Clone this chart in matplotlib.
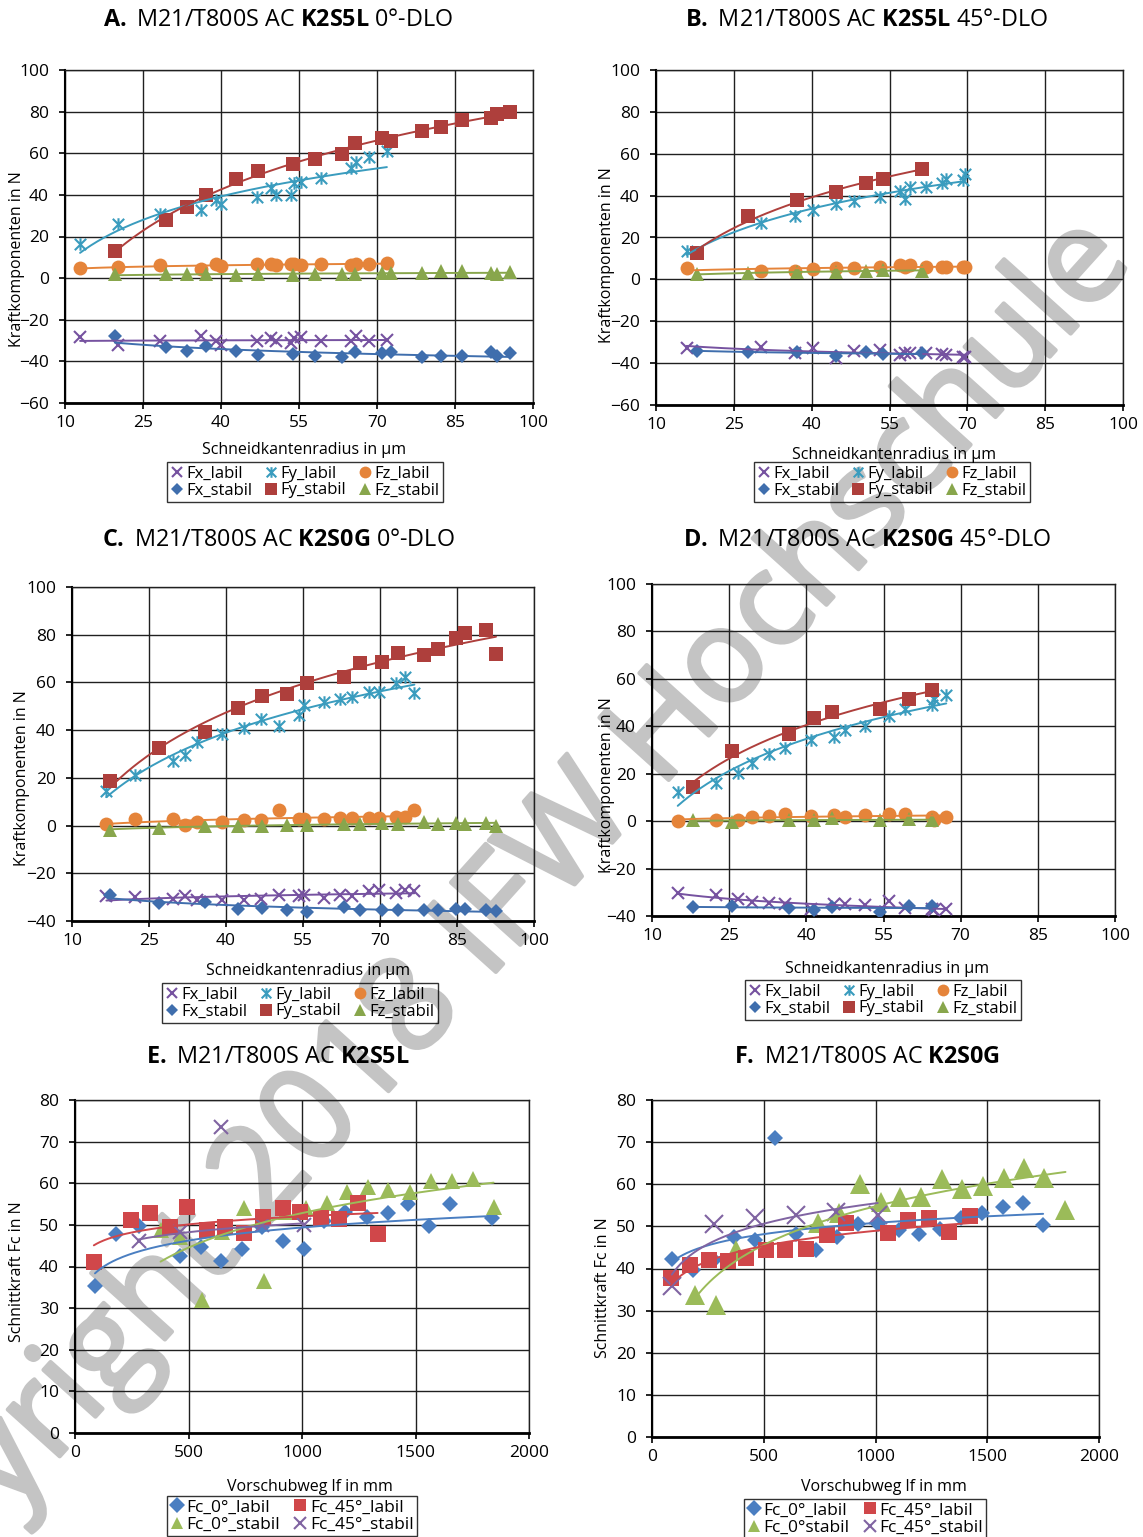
import numpy as np
import matplotlib
matplotlib.use("Agg")
import matplotlib.pyplot as plt
from matplotlib.path import Path
from matplotlib.lines import Line2D
from matplotlib import patheffects

plt.rcParams['font.family'] = ['Open Sans', 'DejaVu Sans']
plt.rcParams['mathtext.fontset'] = 'custom'
plt.rcParams['mathtext.rm'] = 'Open Sans'
plt.rcParams['mathtext.bf'] = 'Open Sans:bold'

# ---------------- data: cutting edge radius series (panels A-D) ----------------
# Panel A: K2S5L 0°-DLO
a_r_labil = [12.9, 20.1, 28.2, 36.1, 39.0, 40.0, 46.9, 49.6, 50.6, 53.4, 54.0, 55.4, 59.3, 65.0, 66.0, 68.4, 71.9]
a_fx_labil = [-28.5, -32.0, -30.4, -28.0, -30.4, -32.0, -30.4, -28.8, -30.1, -31.2, -28.8, -28.5, -30.4, -30.1, -28.0, -30.4, -29.6]
a_fy_labil = [16.3, 26.1, 30.7, 32.5, 37.6, 35.7, 39.2, 43.2, 40.0, 39.7, 45.6, 46.4, 48.0, 52.8, 56.0, 58.4, 61.1]
a_fz_labil = [4.8, 5.3, 6.1, 4.5, 6.7, 5.6, 7.0, 7.0, 6.1, 6.7, 7.0, 6.1, 7.0, 6.1, 7.0, 6.7, 7.5]
a_r_stabil = [19.6, 29.4, 33.4, 37.1, 42.9, 47.1, 53.8, 58.1, 63.3, 65.7, 71.0, 72.7, 78.7, 82.3, 86.4, 91.9, 93.1, 95.5]
a_fx_stabil = [-28.0, -33.1, -34.9, -32.8, -34.9, -36.8, -36.5, -37.3, -38.1, -35.5, -36.0, -35.5, -38.1, -37.3, -37.6, -35.5, -37.6, -36.0]
a_fy_stabil = [12.8, 28.0, 34.4, 40.0, 47.7, 51.5, 54.7, 57.3, 59.5, 65.1, 67.2, 65.9, 70.9, 72.8, 76.0, 76.8, 78.7, 79.7]
a_fz_stabil = [1.9, 1.9, 1.9, 1.9, 1.3, 1.9, 1.6, 1.9, 1.9, 1.9, 2.4, 2.4, 2.4, 3.2, 3.5, 2.6, 1.9, 3.0]

# Panel B: K2S5L 45°-DLO
b_r_labil = [15.9, 30.3, 36.7, 40.3, 44.7, 48.1, 53.1, 57.1, 58.0, 59.0, 62.1, 65.2, 65.9, 69.2, 69.5]
b_fx_labil = [-32.6, -32.1, -35.3, -32.6, -37.4, -34.0, -33.7, -36.1, -35.3, -35.0, -35.3, -35.6, -36.1, -36.9, -36.9]
b_fy_labil = [13.6, 26.8, 30.4, 33.1, 36.0, 37.6, 39.2, 42.2, 38.2, 44.0, 44.0, 45.9, 47.8, 47.5, 50.2]
b_fz_labil = [5.3, 4.2, 4.2, 4.8, 5.3, 5.3, 5.8, 6.9, 6.1, 6.9, 6.1, 6.1, 6.1, 5.8, 5.8]
b_r_stabil = [17.9, 27.7, 37.1, 44.7, 50.4, 53.7, 61.2]
b_fx_stabil = [-34.2, -34.5, -34.5, -36.6, -34.8, -35.8, -35.3]
b_fy_stabil = [12.4, 30.3, 37.9, 41.6, 45.9, 47.9, 52.7]
b_fz_stabil = [2.4, 2.9, 3.7, 3.7, 4.0, 4.5, 4.0]

# Panel C: K2S0G 0°-DLO
c_r_labil = [16.7, 22.2, 29.7, 32.0, 34.3, 39.2, 43.5, 46.8, 50.3, 54.3, 55.1, 59.0, 62.3, 64.5, 67.8, 69.9, 73.2, 74.9, 76.7]
c_fx_labil = [-29.5, -30.0, -30.9, -29.5, -31.2, -31.2, -31.2, -30.9, -29.1, -29.5, -28.9, -30.2, -28.9, -29.5, -27.5, -26.8, -28.2, -26.8, -27.5]
c_fy_labil = [14.7, 21.3, 26.9, 29.7, 35.2, 38.4, 40.8, 44.7, 41.9, 46.4, 50.5, 51.7, 53.1, 54.0, 56.1, 56.1, 59.9, 62.4, 55.4]
c_fz_labil = [0.7, 2.8, 2.8, 0.1, 1.5, 1.5, 2.5, 2.5, 6.7, 2.8, 2.8, 2.8, 3.2, 3.2, 3.2, 3.2, 3.6, 3.6, 6.7]
c_r_stabil = [17.4, 26.9, 36.0, 42.3, 47.0, 51.9, 55.8, 63.0, 66.2, 70.3, 73.5, 78.5, 81.3, 84.8, 86.6, 90.6, 92.6]
c_fx_stabil = [-28.9, -32.3, -32.1, -35.1, -34.4, -35.5, -36.2, -34.1, -35.5, -35.5, -35.5, -35.5, -35.5, -35.1, -35.1, -35.5, -35.8]
c_fy_stabil = [18.5, 32.4, 39.4, 49.2, 54.3, 55.1, 59.9, 62.1, 68.0, 68.7, 72.4, 71.4, 74.2, 78.8, 80.9, 81.9, 72.1]
c_fz_stabil = [-2.0, -1.0, 0.0, 0.0, 0.0, 0.4, 0.4, 0.7, 0.7, 1.1, 0.8, 1.5, 0.8, 1.1, 0.7, 1.1, 0.0]

# Panel D: K2S0G 45°-DLO
d_r_labil = [15.0, 22.4, 26.7, 29.4, 32.8, 35.8, 41.0, 45.4, 47.5, 51.5, 56.0, 59.2, 64.4, 64.8, 67.2]
d_fx_labil = [-30.2, -31.3, -33.0, -34.1, -34.4, -35.1, -37.2, -35.1, -35.1, -35.5, -33.7, -36.5, -37.0, -37.6, -37.2]
d_fy_labil = [12.5, 16.0, 20.5, 24.4, 28.2, 30.7, 34.2, 35.6, 38.4, 40.2, 44.3, 47.5, 48.9, 51.7, 53.1]
d_fz_labil = [0.2, 0.6, 0.6, 1.7, 2.3, 3.0, 2.0, 2.7, 1.7, 2.7, 3.1, 3.0, 1.8, 0.6, 1.6]
d_r_stabil = [18.0, 25.6, 36.7, 41.4, 45.0, 54.3, 60.0, 64.4]
d_fx_stabil = [-36.1, -35.8, -36.5, -37.6, -36.1, -38.2, -35.8, -35.8]
d_fy_stabil = [14.3, 29.7, 36.7, 43.3, 46.1, 47.5, 51.7, 55.2]
d_fz_stabil = [0.6, -0.5, 0.3, 0.3, 1.3, 0.3, 0.9, 0.3]

# ---------------- data: cutting force over feed travel (panels E-F) ----------------
e_lf_0labil = [88, 182, 280, 464, 555, 641, 736, 825, 917, 1008, 1097, 1189, 1286, 1377, 1467, 1561, 1653, 1836]
e_fc_0labil = [35.4, 47.8, 49.8, 42.6, 44.8, 41.4, 44.2, 49.4, 46.2, 44.2, 51.0, 53.2, 51.8, 52.8, 55.0, 49.8, 55.0, 51.6]
e_lf_45labil = [83, 248, 332, 417, 495, 582, 662, 744, 830, 917, 992, 1082, 1163, 1247, 1333]
e_fc_45labil = [41.0, 51.2, 52.8, 49.4, 54.2, 48.8, 49.6, 48.0, 52.0, 54.0, 53.2, 51.6, 51.4, 55.2, 47.8]
e_lf_0stabil = [377, 461, 558, 649, 744, 833, 925, 1016, 1110, 1200, 1291, 1380, 1475, 1569, 1660, 1753, 1844]
e_fc_0stabil = [48.8, 47.2, 32.0, 48.4, 54.0, 36.4, 53.2, 54.0, 55.2, 57.8, 59.2, 58.4, 58.0, 60.6, 60.6, 61.0, 54.2]
e_lf_45stabil = [280, 461, 641, 825, 1008]
e_fc_45stabil = [46.2, 48.4, 73.6, 50.0, 50.0]
e_45stabil_fit_skip = [2]

f_lf_0labil = [89, 184, 277, 369, 459, 551, 644, 736, 829, 921, 1010, 1106, 1195, 1288, 1383, 1477, 1570, 1662, 1750]
f_fc_0labil = [42.3, 39.7, 42.1, 47.5, 46.8, 70.9, 48.2, 44.3, 47.5, 50.5, 50.5, 49.2, 48.2, 49.3, 52.1, 53.1, 54.5, 55.5, 50.4]
f_lf_45labil = [84, 169, 256, 338, 422, 510, 594, 688, 781, 870, 1055, 1147, 1238, 1328, 1423]
f_fc_45labil = [37.7, 40.9, 41.9, 41.7, 42.5, 44.5, 44.5, 44.6, 48.0, 50.9, 48.4, 51.6, 52.0, 48.6, 52.4]
f_lf_0stabil = [192, 285, 378, 744, 836, 929, 1023, 1111, 1203, 1296, 1388, 1480, 1573, 1665, 1755, 1850]
f_fc_0stabil = [33.8, 31.4, 44.4, 50.9, 53.1, 60.0, 55.7, 56.9, 56.9, 61.2, 58.8, 59.6, 61.4, 63.8, 61.4, 53.9]
f_lf_45stabil = [89, 277, 462, 644, 824, 1010]
f_fc_45stabil = [35.8, 50.5, 52.0, 52.7, 53.5, 52.7]

titles = [
    r"$\mathbf{A.}$ M21/T800S AC $\mathbf{K2S5L}$ 0°-DLO",
    r"$\mathbf{B.}$ M21/T800S AC $\mathbf{K2S5L}$ 45°-DLO",
    r"$\mathbf{C.}$ M21/T800S AC $\mathbf{K2S0G}$ 0°-DLO",
    r"$\mathbf{D.}$ M21/T800S AC $\mathbf{K2S0G}$ 45°-DLO",
    r"$\mathbf{E.}$ M21/T800S AC $\mathbf{K2S5L}$",
    r"$\mathbf{F.}$ M21/T800S AC $\mathbf{K2S0G}$",
]
radius_ticks = [10, 25, 40, 55, 70, 85, 100]
feed_ticks = [0, 500, 1000, 1500, 2000]
xlabel_radius = "Schneidkantenradius in µm"
ylabel_comp = "Kraftkomponenten in N"
xlabel_feed = "Vorschubweg lf in mm"
ylabel_fc = "Schnittkraft Fc in N"
comp_labels = ["Fx_labil", "Fx_stabil", "Fy_labil", "Fy_stabil", "Fz_labil", "Fz_stabil"]
fc_labels_e = ["Fc_0°_labil", "Fc_0°_stabil", "Fc_45°_labil", "Fc_45°_stabil"]
fc_labels_f = ["Fc_0°_labil", "Fc_0°stabil", "Fc_45°_labil", "Fc_45°_stabil"]
watermark = "Copyright 2018 IFW Hochschule"

# ---------------- styling ----------------
W, H = 1143, 1537
fig = plt.figure(figsize=(W / 100, H / 100), dpi=100)

ASTERISK = Path([(-1, -1), (1, 1), (-1, 1), (1, -1), (0, -1.1), (0, 1.1)],
                [Path.MOVETO, Path.LINETO, Path.MOVETO, Path.LINETO, Path.MOVETO, Path.LINETO])

C_RED, C_TEAL, C_ORANGE = '#AE3F3C', '#3A9CBE', '#E5843A'
C_GREEN, C_BLUE, C_PURPLE = '#88A64C', '#3F6EAD', '#7652A0'
E_BLUE, E_RED, E_GREEN, E_PURPLE = '#4A7EC1', '#D0474A', '#9BBB59', '#8064A2'

comp_styles = {
    'fx_labil': dict(marker='x', color=C_PURPLE, ms=8.5, mew=1.5, mfc='none'),
    'fx_stabil': dict(marker='D', color=C_BLUE, ms=7.5, mew=0),
    'fy_labil': dict(marker=ASTERISK, color=C_TEAL, ms=9, mew=1.5, mfc='none'),
    'fy_stabil': dict(marker='s', color=C_RED, ms=9.5, mew=0),
    'fz_labil': dict(marker='o', color=C_ORANGE, ms=10, mew=0),
    'fz_stabil': dict(marker='^', color=C_GREEN, ms=10, mew=0),
}


def axes_px(x0, y0, x1, y1):
    ax = fig.add_axes([x0 / W, 1 - y1 / H, (x1 - x0) / W, (y1 - y0) / H])
    ax.patch.set_alpha(0)
    return ax


def ftext(x, y, s, **kw):
    return fig.text(x / W, 1 - y / H, s, **kw)


def style_axes(ax, xlim, xticks, ylim, yticks):
    ax.set_xlim(*xlim)
    ax.set_ylim(*ylim)
    ax.set_xticks(xticks)
    ax.set_yticks(yticks)
    ax.grid(True, color='#202020', lw=1.0)
    ax.set_axisbelow(True)
    for s in ['top', 'right']:
        ax.spines[s].set_color('#202020')
        ax.spines[s].set_linewidth(1.0)
    ax.spines['left'].set_linewidth(1.5)
    ax.spines['bottom'].set_linewidth(2.0)
    ax.tick_params(axis='both', direction='out', length=4.5, width=1.2, labelsize=12.5, colors='black')
    ax.tick_params(axis='y', pad=7)
    ax.tick_params(axis='x', pad=4)


def log_trend(ax, x, y, color, skip=(), lw=1.4):
    x = np.asarray(x, float)
    y = np.asarray(y, float)
    keep = np.ones(len(x), bool)
    keep[list(skip)] = False
    a, b = np.polyfit(np.log(x[keep]), y[keep], 1)
    xs = np.linspace(x[keep].min(), x[keep].max(), 200)
    ax.plot(xs, a * np.log(xs) + b, color=color, lw=lw, zorder=4, solid_capstyle='round')


def add_legend(handles, labels, c, ncol, fs=12):
    leg = fig.legend(handles, labels, loc='center', bbox_to_anchor=(c[0] / W, 1 - c[1] / H),
                     ncol=ncol, frameon=True, fancybox=False, edgecolor='black', fontsize=fs,
                     handlelength=0.8, handletextpad=0.15, columnspacing=0.75, labelspacing=0.05,
                     borderpad=0.2, borderaxespad=0)
    leg.get_frame().set_linewidth(1.0)
    leg.get_frame().set_facecolor('none')
    return leg


def comp_panel(box, title, tcx, tcy, r_lab, fx_l, fy_l, fz_l, r_st, fx_s, fy_s, fz_s,
               ylim, yticks, xl_c, yl_c, leg_c):
    ax = axes_px(*box)
    style_axes(ax, (10, 100), radius_ticks, ylim, yticks)
    series = [('fx_labil', r_lab, fx_l), ('fx_stabil', r_st, fx_s),
              ('fy_labil', r_lab, fy_l), ('fy_stabil', r_st, fy_s),
              ('fz_labil', r_lab, fz_l), ('fz_stabil', r_st, fz_s)]
    handles = []
    for key, x, y in series:
        st = comp_styles[key]
        ax.plot(x, y, ls='none', marker=st['marker'], ms=st['ms'], color=st['color'],
                mec=st['color'], mfc=st.get('mfc', st['color']), mew=st['mew'], zorder=3)
        log_trend(ax, x, y, st['color'])
        handles.append(Line2D([], [], ls='none', marker=st['marker'], ms=st['ms'] * 0.85,
                              color=st['color'], mec=st['color'],
                              mfc=st.get('mfc', st['color']), mew=st['mew']))
    ftext(tcx, tcy, title, ha='center', va='center', fontsize=16.8)
    ftext(xl_c[0], xl_c[1], xlabel_radius, ha='center', va='center', fontsize=11.5)
    ftext(yl_c[0], yl_c[1], ylabel_comp, ha='center', va='center', fontsize=11.5, rotation=90)
    add_legend(handles, comp_labels, leg_c, 3)
    return ax


def fc_panel(box, title, tcx, tcy, groups, labels, xl_c, yl_c, leg_c):
    ax = axes_px(*box)
    style_axes(ax, (0, 2000), feed_ticks, (0, 80), list(range(0, 81, 10)))
    handles = []
    for x, y, st, skip in groups:
        ax.plot(x, y, ls='none', marker=st['marker'], ms=st['ms'], color=st['color'],
                mec=st['color'], mfc=st.get('mfc', st['color']), mew=st['mew'], zorder=3)
        log_trend(ax, x, y, st['color'], skip=skip)
        handles.append(Line2D([], [], ls='none', marker=st['marker'], ms=8.5,
                              color=st['color'], mec=st['color'],
                              mfc=st.get('mfc', st['color']), mew=1.5 if st['marker'] == 'x' else 0))
    ftext(tcx, tcy, title, ha='center', va='center', fontsize=16.8)
    ftext(xl_c[0], xl_c[1], xlabel_feed, ha='center', va='center', fontsize=11.5)
    ftext(yl_c[0], yl_c[1], ylabel_fc, ha='center', va='center', fontsize=11.5, rotation=90)
    add_legend(handles, labels, leg_c, 2, fs=12.5)
    return ax


# diagonal copyright watermark, lying underneath the charts
ftext(465, 955, watermark, rotation=48, rotation_mode='anchor',
      ha='center', va='center', fontsize=94, color='#c4c4c4', zorder=-5,
      path_effects=[patheffects.withStroke(linewidth=3, foreground='#c4c4c4')])

comp_panel((65, 70, 533, 403), titles[0], 278, 20,
           a_r_labil, a_fx_labil, a_fy_labil, a_fz_labil,
           a_r_stabil, a_fx_stabil, a_fy_stabil, a_fz_stabil,
           (-60, 100), list(range(-60, 101, 20)), (304, 450), (17, 259), (305, 482))
comp_panel((656, 70, 1123, 405), titles[1], 867, 20,
           b_r_labil, b_fx_labil, b_fy_labil, b_fz_labil,
           b_r_stabil, b_fx_stabil, b_fy_stabil, b_fz_stabil,
           (-60, 100), list(range(-60, 101, 20)), (894, 455), (607, 255), (892, 482))
comp_panel((72, 587, 534, 921), titles[2], 278, 540,
           c_r_labil, c_fx_labil, c_fy_labil, c_fz_labil,
           c_r_stabil, c_fx_stabil, c_fy_stabil, c_fz_stabil,
           (-40, 100), list(range(-40, 101, 20)), (308, 971), (22, 778), (300, 1003))
comp_panel((652, 584, 1115, 916), titles[3], 867, 540,
           d_r_labil, d_fx_labil, d_fy_labil, d_fz_labil,
           d_r_stabil, d_fx_stabil, d_fy_stabil, d_fz_stabil,
           (-40, 100), list(range(-40, 101, 20)), (887, 969), (607, 785), (883, 1000))

st_e = {
    '0labil': dict(marker='D', color=E_BLUE, ms=8, mew=0),
    '45labil': dict(marker='s', color=E_RED, ms=11, mew=0),
    '0stabil': dict(marker='^', color=E_GREEN, ms=11, mew=0),
    '45stabil': dict(marker='x', color=E_PURPLE, ms=9.5, mew=1.5, mfc='none'),
}
st_f = {
    '0labil': dict(marker='D', color=E_BLUE, ms=8, mew=0),
    '45labil': dict(marker='s', color=E_RED, ms=11, mew=0),
    '0stabil': dict(marker='^', color=E_GREEN, ms=14, mew=0),
    '45stabil': dict(marker='x', color=E_PURPLE, ms=13, mew=1.5, mfc='none'),
}

fc_panel((75, 1100, 529, 1433), titles[4], 278, 1057,
         [(e_lf_0labil, e_fc_0labil, st_e['0labil'], ()),
          (e_lf_0stabil, e_fc_0stabil, st_e['0stabil'], ()),
          (e_lf_45labil, e_fc_45labil, st_e['45labil'], ()),
          (e_lf_45stabil, e_fc_45stabil, st_e['45stabil'], e_45stabil_fit_skip)],
         fc_labels_e, (310, 1487), (17, 1272), (292, 1516))
fc_panel((652, 1100, 1099, 1437), titles[5], 867, 1057,
         [(f_lf_0labil, f_fc_0labil, st_f['0labil'], ()),
          (f_lf_0stabil, f_fc_0stabil, st_f['0stabil'], ()),
          (f_lf_45labil, f_fc_45labil, st_f['45labil'], ()),
          (f_lf_45stabil, f_fc_45stabil, st_f['45stabil'], ())],
         fc_labels_f, (884, 1487), (603, 1288), (865, 1519))

fig.savefig("out.png", dpi=100)
